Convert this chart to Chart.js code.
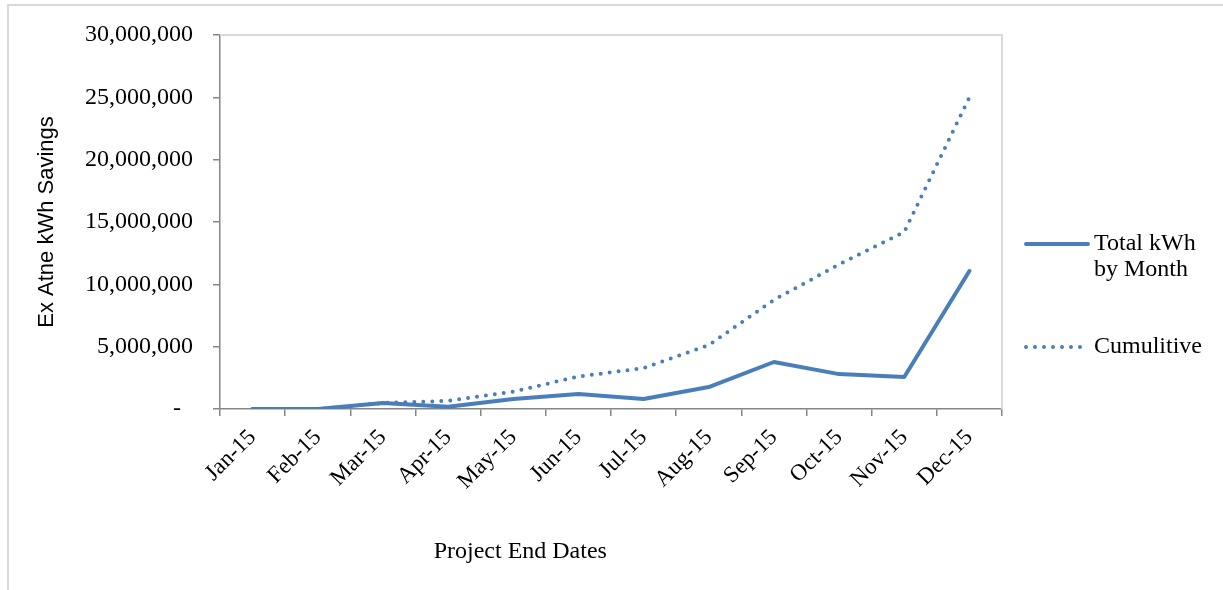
<!DOCTYPE html>
<html>
<head>
<meta charset="utf-8">
<script src="https://cdn.jsdelivr.net/npm/chart.js@4/dist/chart.umd.min.js"></script>
<style>
  html, body { margin: 0; padding: 0; background: #fff; }
  #wrap { position: relative; width: 1223px; height: 590px; }
  #frame { position: absolute; left: 7px; top: 4px; right: -10px; bottom: -10px; border-top: 2px solid #d9d9d9; border-left: 2px solid #d9d9d9; pointer-events: none; }
</style>
</head>
<body>
<div id="wrap">
  <canvas id="kwhChart"></canvas>
  <div id="frame"></div>
</div>
<script>
// data
const months = ["Jan-15", "Feb-15", "Mar-15", "Apr-15", "May-15", "Jun-15", "Jul-15", "Aug-15", "Sep-15", "Oct-15", "Nov-15", "Dec-15"];
const totalKwh = [0, 0, 480000, 180000, 800000, 1200000, 800000, 1760000, 3770000, 2800000, 2570000, 11070000];
const cumulative = [0, 0, 480000, 650000, 1400000, 2600000, 3280000, 5130000, 8750000, 11600000, 14200000, 25000000];
const legendLines = [["Total kWh", "by Month"], ["Cumulitive"]];
const yMin = 0, yMax = 30000000, yStep = 5000000;

const blue = "#4a7ebb";
const axisGray = "#868686";
const serif = "'Liberation Serif', 'Times New Roman', serif";

// light border on top and right of plot area
const plotFrame = {
    id: "plotFrame",
    beforeDatasetsDraw(chart) {
        const { ctx, chartArea: a } = chart;
        ctx.save();
        ctx.strokeStyle = "#d9d9d9";
        ctx.lineWidth = 2;
        ctx.beginPath();
        ctx.moveTo(a.left, a.top);
        ctx.lineTo(a.right, a.top);
        ctx.lineTo(a.right, a.bottom);
        ctx.stroke();
        ctx.restore();
    }
};

// x axis title sits left of centre like in the original
const xTitle = {
    id: "xTitle",
    afterDraw(chart) {
        const { ctx, chartArea: a } = chart;
        ctx.save();
        ctx.font = "24px " + serif;
        ctx.fillStyle = "#000";
        ctx.textAlign = "center";
        ctx.textBaseline = "middle";
        ctx.fillText("Project End Dates", a.left + a.width * 0.384, chart.height - 38);
        ctx.restore();
    }
};

// legend on the right with wrapped label
const sideLegend = {
    id: "sideLegend",
    afterDraw(chart) {
        const { ctx, chartArea: a } = chart;
        const rows = [a.top + 209, a.top + 312];
        ctx.save();
        chart.data.datasets.forEach((ds, i) => {
            const y = rows[i];
            ctx.strokeStyle = ds.borderColor;
            ctx.lineWidth = ds.borderWidth;
            ctx.lineCap = ds.borderCapStyle || "butt";
            ctx.setLineDash(ds.borderDash || []);
            ctx.beginPath();
            ctx.moveTo(a.right + 24, y);
            ctx.lineTo(a.right + 86, y);
            ctx.stroke();
            ctx.setLineDash([]);
            ctx.font = "24px " + serif;
            ctx.fillStyle = "#000";
            ctx.textBaseline = "middle";
            legendLines[i].forEach((t, j) => ctx.fillText(t, a.right + 92, y + j * 26));
        });
        ctx.restore();
    }
};

const ctx = document.getElementById("kwhChart").getContext("2d");
new Chart(ctx, {
    type: "line",
    data: {
        labels: months,
        datasets: [
            { label: legendLines[0].join(" "), data: totalKwh, borderColor: blue, backgroundColor: blue, borderWidth: 4, borderJoinStyle: "round", borderCapStyle: "round", pointRadius: 0, tension: 0 },
            { label: legendLines[1].join(" "), data: cumulative, borderColor: blue, backgroundColor: blue, borderWidth: 4, borderDash: [0, 9], borderCapStyle: "round", pointRadius: 0, tension: 0 }
        ]
    },
    options: {
        responsive: true,
        maintainAspectRatio: false,
        animation: false,
        layout: { padding: { left: 20, top: 35, right: 221, bottom: 0 } },
        plugins: { legend: { display: false }, tooltip: { enabled: false } },
        scales: {
            x: {
                offset: true,
                afterFit: s => { s.height = 181; },
                border: { color: axisGray, width: 1.5 },
                grid: { offset: true, drawOnChartArea: false, color: axisGray, lineWidth: 1.5, tickLength: 7 },
                ticks: { color: "#000", font: { family: serif, size: 23 }, minRotation: 45, maxRotation: 45, padding: 8 }
            },
            y: {
                min: yMin, max: yMax,
                afterFit: s => { s.width = 200; },
                border: { color: axisGray, width: 1.5 },
                grid: { drawOnChartArea: false, color: axisGray, lineWidth: 1.5, tickLength: 7 },
                title: { display: true, text: "Ex Atne kWh Savings", color: "#000", font: { family: "'Liberation Sans', Arial, sans-serif", size: 22 }, padding: { top: 14, bottom: 0 } },
                ticks: {
                    stepSize: yStep, color: "#000", padding: 20,
                    font: { family: serif, size: 24 },
                    callback: v => v === 0 ? "-  " : v.toLocaleString("en-US")
                }
            }
        }
    },
    plugins: [plotFrame, xTitle, sideLegend]
});
</script>
</body>
</html>
